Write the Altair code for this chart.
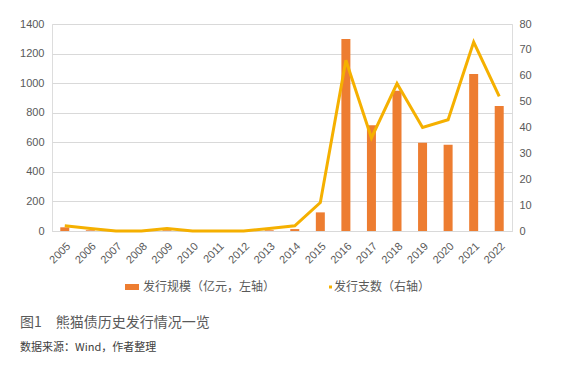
import altair as alt
import pandas as pd

years = [str(y) for y in range(2005, 2023)]
amount = [25, 5, 0, 0, 5, 0, 0, 0, 5, 13, 126, 1298, 715, 949, 597, 584, 1062, 845]
count = [2, 1, 0, 0, 1, 0, 0, 0, 1, 2, 11, 66, 36, 57, 40, 43, 73, 52]

bar_label = "发行规模（亿元，左轴）"
line_label = "发行支数（右轴）"
caption1 = "图1　熊猫债历史发行情况一览"
caption2 = "数据来源：Wind，作者整理"

df = pd.DataFrame({"year": years, "amount": amount, "count": count})

BAR = "#ED7D31"
LINE = "#F5B000"
TXT = "#595959"
FONT = "Liberation Sans"
CJK = "Noto Sans CJK SC"

W, H = 460, 207

x = alt.X("year:N", sort=years, title=None,
          scale=alt.Scale(paddingInner=0.0, paddingOuter=0.0),
          axis=alt.Axis(labelAngle=-45, labelAlign="right", labelBaseline="top",
                        labelFontSize=11, labelColor=TXT, labelFont=FONT,
                        ticks=False, domain=True, domainColor="#D9D9D9",
                        labelPadding=9, grid=False))

bars = alt.Chart(df).mark_bar(size=9, color=BAR).encode(
    x=x,
    y=alt.Y("amount:Q", title=None,
            scale=alt.Scale(domain=[0, 1400]),
            axis=alt.Axis(values=list(range(0, 1401, 200)), orient="left", format="d",
                          labelFontSize=11, labelColor=TXT, labelFont=FONT,
                          ticks=False, domain=False, labelPadding=8,
                          grid=True, gridColor="#D9D9D9", gridWidth=1)),
)

line = alt.Chart(df).mark_line(color=LINE, strokeWidth=3, strokeJoin="miter").encode(
    x=x,
    y=alt.Y("count:Q", title=None,
            scale=alt.Scale(domain=[0, 80]),
            axis=alt.Axis(values=list(range(0, 81, 10)), orient="right", format="d",
                          labelFontSize=11, labelColor=TXT, labelFont=FONT,
                          ticks=False, domain=False, labelPadding=7, grid=False)),
)

one = pd.DataFrame({"k": [0]})

leg_rect = alt.Chart(one).mark_rect(color=BAR).encode(
    x=alt.value(73), x2=alt.value(87), y=alt.value(260), y2=alt.value(266))
leg_text1 = alt.Chart(one).mark_text(align="left", baseline="middle", font=CJK,
                                     fontSize=12, color=TXT, text=bar_label).encode(
    x=alt.value(91), y=alt.value(263))
leg_line = alt.Chart(one).mark_rule(color=LINE, strokeWidth=3).encode(
    x=alt.value(277), x2=alt.value(280), y=alt.value(263))
leg_text2 = alt.Chart(one).mark_text(align="left", baseline="middle", font=CJK,
                                     fontSize=12, color=TXT, text=line_label).encode(
    x=alt.value(282), y=alt.value(263))
cap1 = alt.Chart(one).mark_text(align="left", baseline="middle", font=CJK,
                                fontSize=14, color=TXT, text=caption1).encode(
    x=alt.value(-32), y=alt.value(299))
cap2 = alt.Chart(one).mark_text(align="left", baseline="middle", font=CJK,
                                fontSize=11, color="#404040", text=caption2).encode(
    x=alt.value(-32), y=alt.value(324))

main = alt.layer(bars, line).resolve_scale(y="independent")

chart = alt.layer(main, leg_rect, leg_text1, leg_line, leg_text2, cap1, cap2).properties(
    width=W, height=H,
    autosize=alt.AutoSizeParams(type="none"),
    padding={"left": 44, "top": 16, "right": 41, "bottom": 131},
).configure_view(stroke=None).configure(background="white")

chart.save("out.html", embed_options={"renderer": "svg", "actions": False})
